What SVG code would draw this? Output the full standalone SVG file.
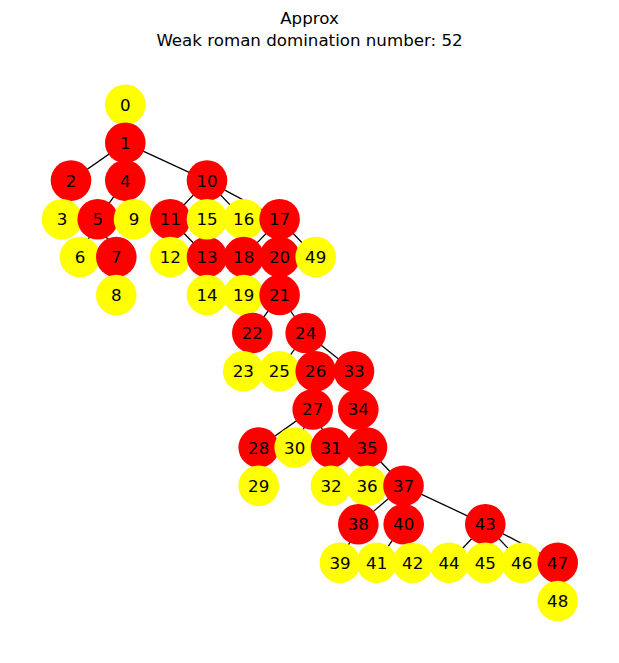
<svg xmlns="http://www.w3.org/2000/svg" width="619" height="663" viewBox="0 0 619 663">
<style>
.e{stroke:#000;stroke-width:1.3;fill:none}
.r{fill:#ff0000}
.y{fill:#ffff00}
text{font-family:"DejaVu Sans","Liberation Sans",sans-serif;font-size:16.67px;fill:#000;text-anchor:middle}
</style>
<rect width="619" height="663" fill="#fff"/>
<text x="309.5" y="24">Approx</text>
<text x="309.5" y="45.5">Weak roman domination number: 52</text>
<g id="edges">
<line class="e" x1="125.3" y1="104.8" x2="125.3" y2="142.8"/>
<line class="e" x1="125.3" y1="142.8" x2="71" y2="180.6"/>
<line class="e" x1="125.3" y1="142.8" x2="125.3" y2="180.6"/>
<line class="e" x1="125.3" y1="142.8" x2="207" y2="180.6"/>
<line class="e" x1="71" y1="180.6" x2="62" y2="219.2"/>
<line class="e" x1="125.3" y1="180.6" x2="97.7" y2="219.2"/>
<line class="e" x1="125.3" y1="180.6" x2="134" y2="219.2"/>
<line class="e" x1="97.7" y1="219.2" x2="80" y2="257"/>
<line class="e" x1="97.7" y1="219.2" x2="116.3" y2="257"/>
<line class="e" x1="116.3" y1="257" x2="116.3" y2="295"/>
<line class="e" x1="207" y1="180.6" x2="170.3" y2="219.2"/>
<line class="e" x1="207" y1="180.6" x2="207" y2="219.2"/>
<line class="e" x1="207" y1="180.6" x2="243.7" y2="219.2"/>
<line class="e" x1="207" y1="180.6" x2="279.6" y2="219.2"/>
<line class="e" x1="170.3" y1="219.2" x2="170.3" y2="257"/>
<line class="e" x1="170.3" y1="219.2" x2="207" y2="257"/>
<line class="e" x1="207" y1="257" x2="207" y2="295"/>
<line class="e" x1="279.6" y1="219.2" x2="243.7" y2="257"/>
<line class="e" x1="279.6" y1="219.2" x2="279.6" y2="257"/>
<line class="e" x1="279.6" y1="219.2" x2="315.7" y2="257"/>
<line class="e" x1="243.7" y1="257" x2="243.7" y2="295"/>
<line class="e" x1="279.6" y1="257" x2="279.6" y2="295"/>
<line class="e" x1="279.6" y1="295" x2="252.3" y2="333"/>
<line class="e" x1="279.6" y1="295" x2="305.7" y2="333"/>
<line class="e" x1="252.3" y1="333" x2="243.3" y2="371.2"/>
<line class="e" x1="305.7" y1="333" x2="279.3" y2="371.2"/>
<line class="e" x1="305.7" y1="333" x2="315.7" y2="371.2"/>
<line class="e" x1="305.7" y1="333" x2="354" y2="371.2"/>
<line class="e" x1="315.7" y1="371.2" x2="312.7" y2="409.4"/>
<line class="e" x1="354" y1="371.2" x2="358.3" y2="409.4"/>
<line class="e" x1="312.7" y1="409.4" x2="258.7" y2="447.5"/>
<line class="e" x1="312.7" y1="409.4" x2="294.7" y2="447.5"/>
<line class="e" x1="312.7" y1="409.4" x2="331" y2="447.5"/>
<line class="e" x1="358.3" y1="409.4" x2="367" y2="447.5"/>
<line class="e" x1="258.7" y1="447.5" x2="258.7" y2="485.8"/>
<line class="e" x1="331" y1="447.5" x2="331" y2="485.8"/>
<line class="e" x1="367" y1="447.5" x2="367" y2="485.8"/>
<line class="e" x1="367" y1="447.5" x2="403.5" y2="485.8"/>
<line class="e" x1="403.5" y1="485.8" x2="358.3" y2="524.3"/>
<line class="e" x1="403.5" y1="485.8" x2="403.7" y2="524.3"/>
<line class="e" x1="403.5" y1="485.8" x2="485.3" y2="524.3"/>
<line class="e" x1="358.3" y1="524.3" x2="340" y2="562.7"/>
<line class="e" x1="403.7" y1="524.3" x2="376.7" y2="562.7"/>
<line class="e" x1="403.7" y1="524.3" x2="412.7" y2="562.7"/>
<line class="e" x1="485.3" y1="524.3" x2="449" y2="562.7"/>
<line class="e" x1="485.3" y1="524.3" x2="485.3" y2="562.7"/>
<line class="e" x1="485.3" y1="524.3" x2="521.7" y2="562.7"/>
<line class="e" x1="485.3" y1="524.3" x2="557.7" y2="562.7"/>
<line class="e" x1="557.7" y1="562.7" x2="557.7" y2="601"/>
</g>
<g id="n0"><circle class="y" cx="125.3" cy="104.8" r="20.3"/><text x="125.3" y="110.8">0</text></g>
<g id="n1"><circle class="r" cx="125.3" cy="142.8" r="20.3"/><text x="125.3" y="148.8">1</text></g>
<g id="n2"><circle class="r" cx="71" cy="180.6" r="20.3"/><text x="71" y="186.6">2</text></g>
<g id="n3"><circle class="y" cx="62" cy="219.2" r="20.3"/><text x="62" y="225.2">3</text></g>
<g id="n4"><circle class="r" cx="125.3" cy="180.6" r="20.3"/><text x="125.3" y="186.6">4</text></g>
<g id="n5"><circle class="r" cx="97.7" cy="219.2" r="20.3"/><text x="97.7" y="225.2">5</text></g>
<g id="n6"><circle class="y" cx="80" cy="257" r="20.3"/><text x="80" y="263">6</text></g>
<g id="n7"><circle class="r" cx="116.3" cy="257" r="20.3"/><text x="116.3" y="263">7</text></g>
<g id="n8"><circle class="y" cx="116.3" cy="295" r="20.3"/><text x="116.3" y="301">8</text></g>
<g id="n9"><circle class="y" cx="134" cy="219.2" r="20.3"/><text x="134" y="225.2">9</text></g>
<g id="n10"><circle class="r" cx="207" cy="180.6" r="20.3"/><text x="207" y="186.6">10</text></g>
<g id="n11"><circle class="r" cx="170.3" cy="219.2" r="20.3"/><text x="170.3" y="225.2">11</text></g>
<g id="n12"><circle class="y" cx="170.3" cy="257" r="20.3"/><text x="170.3" y="263">12</text></g>
<g id="n13"><circle class="r" cx="207" cy="257" r="20.3"/><text x="207" y="263">13</text></g>
<g id="n14"><circle class="y" cx="207" cy="295" r="20.3"/><text x="207" y="301">14</text></g>
<g id="n15"><circle class="y" cx="207" cy="219.2" r="20.3"/><text x="207" y="225.2">15</text></g>
<g id="n16"><circle class="y" cx="243.7" cy="219.2" r="20.3"/><text x="243.7" y="225.2">16</text></g>
<g id="n17"><circle class="r" cx="279.6" cy="219.2" r="20.3"/><text x="279.6" y="225.2">17</text></g>
<g id="n18"><circle class="r" cx="243.7" cy="257" r="20.3"/><text x="243.7" y="263">18</text></g>
<g id="n19"><circle class="y" cx="243.7" cy="295" r="20.3"/><text x="243.7" y="301">19</text></g>
<g id="n20"><circle class="r" cx="279.6" cy="257" r="20.3"/><text x="279.6" y="263">20</text></g>
<g id="n21"><circle class="r" cx="279.6" cy="295" r="20.3"/><text x="279.6" y="301">21</text></g>
<g id="n22"><circle class="r" cx="252.3" cy="333" r="20.3"/><text x="252.3" y="339">22</text></g>
<g id="n23"><circle class="y" cx="243.3" cy="371.2" r="20.3"/><text x="243.3" y="377.2">23</text></g>
<g id="n24"><circle class="r" cx="305.7" cy="333" r="20.3"/><text x="305.7" y="339">24</text></g>
<g id="n25"><circle class="y" cx="279.3" cy="371.2" r="20.3"/><text x="279.3" y="377.2">25</text></g>
<g id="n26"><circle class="r" cx="315.7" cy="371.2" r="20.3"/><text x="315.7" y="377.2">26</text></g>
<g id="n27"><circle class="r" cx="312.7" cy="409.4" r="20.3"/><text x="312.7" y="415.4">27</text></g>
<g id="n28"><circle class="r" cx="258.7" cy="447.5" r="20.3"/><text x="258.7" y="453.5">28</text></g>
<g id="n29"><circle class="y" cx="258.7" cy="485.8" r="20.3"/><text x="258.7" y="491.8">29</text></g>
<g id="n30"><circle class="y" cx="294.7" cy="447.5" r="20.3"/><text x="294.7" y="453.5">30</text></g>
<g id="n31"><circle class="r" cx="331" cy="447.5" r="20.3"/><text x="331" y="453.5">31</text></g>
<g id="n32"><circle class="y" cx="331" cy="485.8" r="20.3"/><text x="331" y="491.8">32</text></g>
<g id="n33"><circle class="r" cx="354" cy="371.2" r="20.3"/><text x="354" y="377.2">33</text></g>
<g id="n34"><circle class="r" cx="358.3" cy="409.4" r="20.3"/><text x="358.3" y="415.4">34</text></g>
<g id="n35"><circle class="r" cx="367" cy="447.5" r="20.3"/><text x="367" y="453.5">35</text></g>
<g id="n36"><circle class="y" cx="367" cy="485.8" r="20.3"/><text x="367" y="491.8">36</text></g>
<g id="n37"><circle class="r" cx="403.5" cy="485.8" r="20.3"/><text x="403.5" y="491.8">37</text></g>
<g id="n38"><circle class="r" cx="358.3" cy="524.3" r="20.3"/><text x="358.3" y="530.3">38</text></g>
<g id="n39"><circle class="y" cx="340" cy="562.7" r="20.3"/><text x="340" y="568.7">39</text></g>
<g id="n40"><circle class="r" cx="403.7" cy="524.3" r="20.3"/><text x="403.7" y="530.3">40</text></g>
<g id="n41"><circle class="y" cx="376.7" cy="562.7" r="20.3"/><text x="376.7" y="568.7">41</text></g>
<g id="n42"><circle class="y" cx="412.7" cy="562.7" r="20.3"/><text x="412.7" y="568.7">42</text></g>
<g id="n43"><circle class="r" cx="485.3" cy="524.3" r="20.3"/><text x="485.3" y="530.3">43</text></g>
<g id="n44"><circle class="y" cx="449" cy="562.7" r="20.3"/><text x="449" y="568.7">44</text></g>
<g id="n45"><circle class="y" cx="485.3" cy="562.7" r="20.3"/><text x="485.3" y="568.7">45</text></g>
<g id="n46"><circle class="y" cx="521.7" cy="562.7" r="20.3"/><text x="521.7" y="568.7">46</text></g>
<g id="n47"><circle class="r" cx="557.7" cy="562.7" r="20.3"/><text x="557.7" y="568.7">47</text></g>
<g id="n48"><circle class="y" cx="557.7" cy="601" r="20.3"/><text x="557.7" y="607">48</text></g>
<g id="n49"><circle class="y" cx="315.7" cy="257" r="20.3"/><text x="315.7" y="263">49</text></g>
</svg>
